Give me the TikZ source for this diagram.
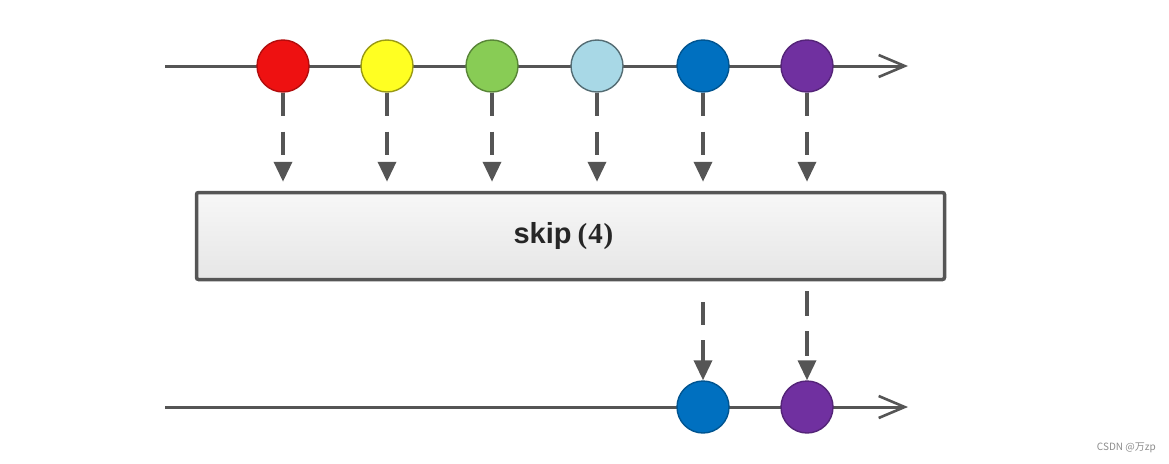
\documentclass[tikz,border=0pt]{standalone}
\usepackage{fontspec}
\setmainfont{Liberation Sans}
\newfontfamily\cjkfont{Noto Sans CJK SC}
\newfontfamily\serifnum{Liberation Serif}
\usetikzlibrary{arrows.meta}
\definecolor{linegray}{HTML}{555555}
\definecolor{cred}{HTML}{EE1111}
\definecolor{cyellow}{HTML}{FFFF22}
\definecolor{cgreen}{HTML}{88CC55}
\definecolor{clblue}{HTML}{A8D8E6}
\definecolor{cblue}{HTML}{0070C0}
\definecolor{cpurple}{HTML}{7030A0}
\tikzset{
  timeline/.style={draw=linegray, line width=3pt, -{Straight Barb[length=26pt,width=22pt,line width=2.6pt]}},
  marble/.style={circle, minimum size=52pt, inner sep=0pt, line width=1.4pt},
  flow/.style={draw=linegray, line width=3.5pt, dash pattern=on 23pt off 16pt, -{Triangle[length=20pt,width=18pt]}, color=linegray},
  opbox/.style={draw=linegray, line width=3.5pt, rounded corners=2pt, top color=white!97!black, bottom color=white!90!black, minimum width=748pt, minimum height=87pt, inner sep=0pt},
  wm/.style={text=black!45, font=\fontsize{10}{12}\selectfont\cjkfont, anchor=east, inner sep=0pt}
}
\begin{document}
\begin{tikzpicture}[x=1pt,y=-1pt]
\useasboundingbox (0,0) rectangle (1169,463);
\coordinate (s1) at (165,66);
\coordinate (e1) at (908,66);
\coordinate (s2) at (165,407);
\coordinate (e2) at (908,407);
\draw[timeline] (s1) -- (e1);
\draw[timeline] (s2) -- (e2);
\node[marble, fill=cred, draw=cred!75!black] (c1) at (283,66) {};
\node[marble, fill=cyellow, draw=cyellow!60!black] (c2) at (387,66) {};
\node[marble, fill=cgreen, draw=cgreen!65!black] (c3) at (492,66) {};
\node[marble, fill=clblue, draw=clblue!50!black] (c4) at (597,66) {};
\node[marble, fill=cblue, draw=cblue!75!black] (c5) at (703,66) {};
\node[marble, fill=cpurple, draw=cpurple!75!black] (c6) at (807,66) {};
\node[opbox] (box) at (570.5,236) {\fontsize{29}{34}\selectfont\bfseries\color{black!85}skip\hspace{6pt}{\serifnum(\hspace{1pt}4\hspace{1pt})}\hspace*{14pt}};
\node[marble, fill=cblue, draw=cblue!75!black] (d5) at (703,407) {};
\node[marble, fill=cpurple, draw=cpurple!75!black] (d6) at (807,407) {};
\foreach \i in {1,...,6}{
  \draw[flow, shorten >=9pt] (c\i.south) -- (c\i.south |- box.north);
}
\draw[flow, dash pattern=on 23pt off 15pt, shorten <=21pt] (box.south -| d5) -- (d5.north);
\draw[flow, dash pattern=on 25pt off 15pt, shorten <=10pt] (box.south -| d6) -- (d6.north);
\node[wm] (wm) at (1156,448) {CSDN @万zp};
\end{tikzpicture}
\end{document}
